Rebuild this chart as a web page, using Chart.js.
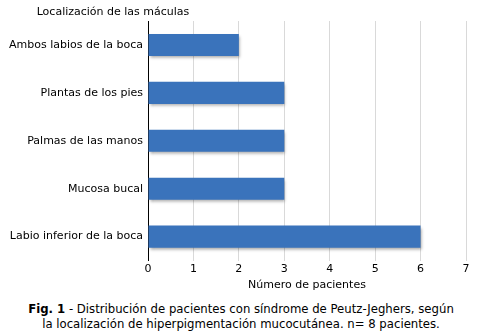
<!DOCTYPE html>
<html>
<head>
<meta charset="utf-8">
<script src="https://cdn.jsdelivr.net/npm/chart.js@4"></script>
<style>
  html, body { margin: 0; padding: 0; background: #fff; }
  #wrap { width: 482px; height: 333px; position: relative; }
  canvas { display: block; }
  #caption {
    position: absolute; left: 0; top: 302px; width: 482px;
    text-align: center; font-family: "DejaVu Sans", Verdana, sans-serif;
    font-size: 11.7px; line-height: 14.5px; color: #000;
  }
</style>
</head>
<body>
<div id="wrap">
  <canvas id="chart" width="482" height="292"></canvas>
  <div id="caption"><b>Fig. 1</b> - Distribución de pacientes con síndrome de Peutz-Jeghers, según<br>la localización de hiperpigmentación mucocutánea. n= 8 pacientes.</div>
</div>
<script>
const categories = [
  "Ambos labios de la boca",
  "Plantas de los pies",
  "Palmas de las manos",
  "Mucosa bucal",
  "Labio inferior de la boca"
];
const patients = [2, 3, 3, 3, 6];
const xTicks = [0, 1, 2, 3, 4, 5, 6, 7];
const yAxisTitle = "Localización de las máculas";
const xAxisTitle = "Número de pacientes";

const FONT = '"DejaVu Sans", Verdana, sans-serif';

// vertical blue gradient for each bar
function barFill(ctx) {
  const el = ctx.element;
  const c = ctx.chart.ctx;
  if (!el || el.y === undefined) return '#3a73bb';
  const h = el.height || 22;
  const top = el.y - h / 2, bottom = el.y + h / 2;
  const g = c.createLinearGradient(0, top, 0, bottom);
  g.addColorStop(0, '#6b9bd6');
  g.addColorStop(0.25, '#4a82c8');
  g.addColorStop(0.7, '#3670b8');
  g.addColorStop(1, '#2a5c9f');
  return g;
}

// soft drop shadow under the bars
const barShadow = {
  id: 'barShadow',
  beforeDatasetsDraw(chart) {
    const c = chart.ctx;
    c.save();
    c.shadowColor = 'rgba(0,0,0,0.35)';
    c.shadowBlur = 3;
    c.shadowOffsetX = 1;
    c.shadowOffsetY = 2;
  },
  afterDatasetsDraw(chart) {
    chart.ctx.restore();
  }
};

// axis caption above the category labels
const topCaption = {
  id: 'topCaption',
  afterDraw(chart) {
    const c = chart.ctx;
    c.save();
    c.font = '11px ' + FONT;
    c.fillStyle = '#000';
    c.textAlign = 'center';
    c.textBaseline = 'middle';
    c.fillText(yAxisTitle, 113, 12);
    c.restore();
  }
};

new Chart(document.getElementById('chart'), {
  type: 'bar',
  data: {
    labels: categories,
    datasets: [{
      data: patients,
      backgroundColor: barFill,
      borderWidth: 0,
      barPercentage: 0.92,
      categoryPercentage: 0.5
    }]
  },
  options: {
    indexAxis: 'y',
    responsive: false,
    animation: false,
    layout: { padding: { top: 21, right: 16, left: 0, bottom: 0 } },
    plugins: { legend: { display: false }, tooltip: { enabled: false } },
    scales: {
      x: {
        min: 0, max: 7,
        afterBuildTicks(scale) { scale.ticks = xTicks.map(v => ({ value: v })); },
        grid: { color: '#d9d9d9', drawTicks: false },
        border: { display: false },
        ticks: { font: { family: FONT, size: 11 }, color: '#000', padding: 2 },
        title: { display: true, text: xAxisTitle, font: { family: FONT, size: 11 }, color: '#000', padding: { top: 1, bottom: 0 } }
      },
      y: {
        grid: { display: false, drawTicks: false },
        border: { display: true, color: '#000', width: 1 },
        afterFit(scale) { scale.width = 148; },
        ticks: { font: { family: FONT, size: 11 }, color: '#000', padding: 5 }
      }
    }
  },
  plugins: [barShadow, topCaption]
});
</script>
</body>
</html>
